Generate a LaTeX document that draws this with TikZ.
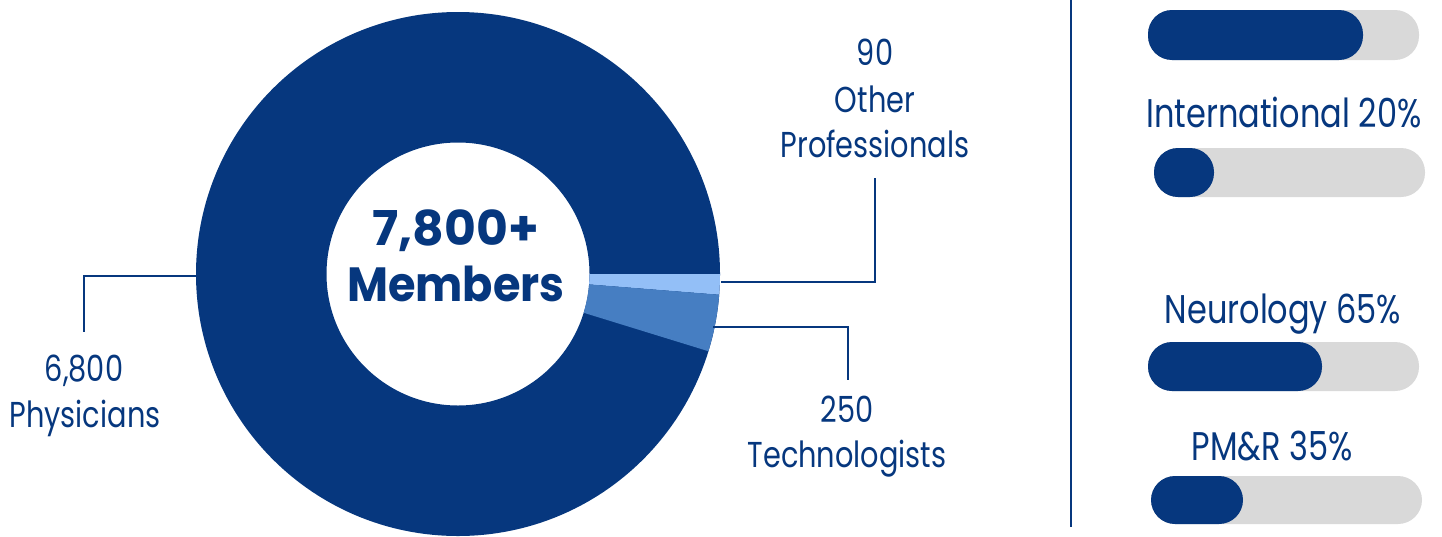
\documentclass[tikz,border=0pt]{standalone}
\usepackage{fontspec}
\setmainfont{Poppins}[FakeStretch=0.8]
\newfontfamily\rfam{Poppins}[FakeStretch=0.8]
\newfontfamily\boldfam{Poppins}[FakeStretch=0.93]
\newfontfamily\numfam{Poppins}[FakeStretch=1.02]
\definecolor{navy}{RGB}{6,55,126}
\definecolor{lightb}{RGB}{147,191,247}
\definecolor{midb}{RGB}{70,126,194}
\definecolor{bargray}{RGB}{217,217,217}
\tikzset{
  lbl/.style={anchor=base, inner sep=0pt, text=navy, font=\fontsize{36}{40}\selectfont},
  rlbl/.style={anchor=base, inner sep=0pt, text=navy, font=\rfam\fontsize{40}{44}\selectfont},
  big/.style={anchor=base, inner sep=0pt, text=navy, font=\boldfam\bfseries\fontsize{48}{52}\selectfont},
  bignum/.style={big, font=\numfam\bfseries\fontsize{48}{52}\selectfont},
  conn/.style={draw=navy, line width=2.2pt},
  track/.style={fill=bargray, rounded corners=24pt},
  level/.style={fill=navy, rounded corners=24pt},
}
\begin{document}
\begin{tikzpicture}[x=1pt,y=-1pt]
\useasboundingbox (0,0) rectangle (1442,536);
% donut
\begin{scope}[shift={(458,274)}, x=1pt, y=1pt]
  \fill[navy, even odd rule] (0,0) circle[radius=262] (0,0) circle[radius=131.5];
  \fill[lightb] (0:262) arc[start angle=0, end angle=-4.54, radius=262]
     -- (-4.54:131.5) arc[start angle=-4.54, end angle=0, radius=131.5] -- cycle;
  \fill[midb] (-4.54:262) arc[start angle=-4.54, end angle=-17.14, radius=262]
     -- (-17.14:131.5) arc[start angle=-17.14, end angle=-4.54, radius=131.5] -- cycle;
\end{scope}
% center text
\node[bignum] (total) at (456,245) {7,800+};
\node[big] (members) at (456,301) {Members};
% physicians
\node[lbl] (physn) at (84,381) {6,800};
\node[lbl] (phys) at (85,427) {Physicians};
\coordinate (physA) at (197,276);
\coordinate (physB) at (84,332);
\draw[conn] (physA) -| (physB);
% other professionals
\node[lbl] (othn) at (875,65) {90};
\node[lbl] (oth1) at (875,112) {Other};
\node[lbl] (oth2) at (875,157) {Professionals};
\coordinate (othA) at (721,282);
\coordinate (othB) at (875,178);
\draw[conn] (othA) -| (othB);
% technologists
\node[lbl] (techn) at (847,422) {250};
\node[lbl] (tech) at (847,467) {Technologists};
\coordinate (techA) at (713,327);
\coordinate (techB) at (848,380);
\draw[conn] (techA) -| (techB);
% divider
\coordinate (divtop) at (1071,0);
\coordinate (divbot) at (1071,527);
\draw[navy, line width=2pt] (divtop) -- (divbot);
% bars
\fill[track] (1148,10) rectangle (1419,60);
\fill[level] (1148,10) rectangle (1363,60);
\node[rlbl] (intl) at (1284,127) {International 20\%};
\fill[track] (1154,148) rectangle (1425,197);
\fill[level] (1154,148) rectangle (1214,197);
\node[rlbl] (neuro) at (1283,323) {Neurology 65\%};
\fill[track] (1148,342) rectangle (1419,391);
\fill[level] (1148,342) rectangle (1322,391);
\node[rlbl] (pmr) at (1272,460) {PM\&R 35\%};
\fill[track] (1151,476) rectangle (1422,524);
\fill[level] (1151,476) rectangle (1243,524);
\end{tikzpicture}
\end{document}
